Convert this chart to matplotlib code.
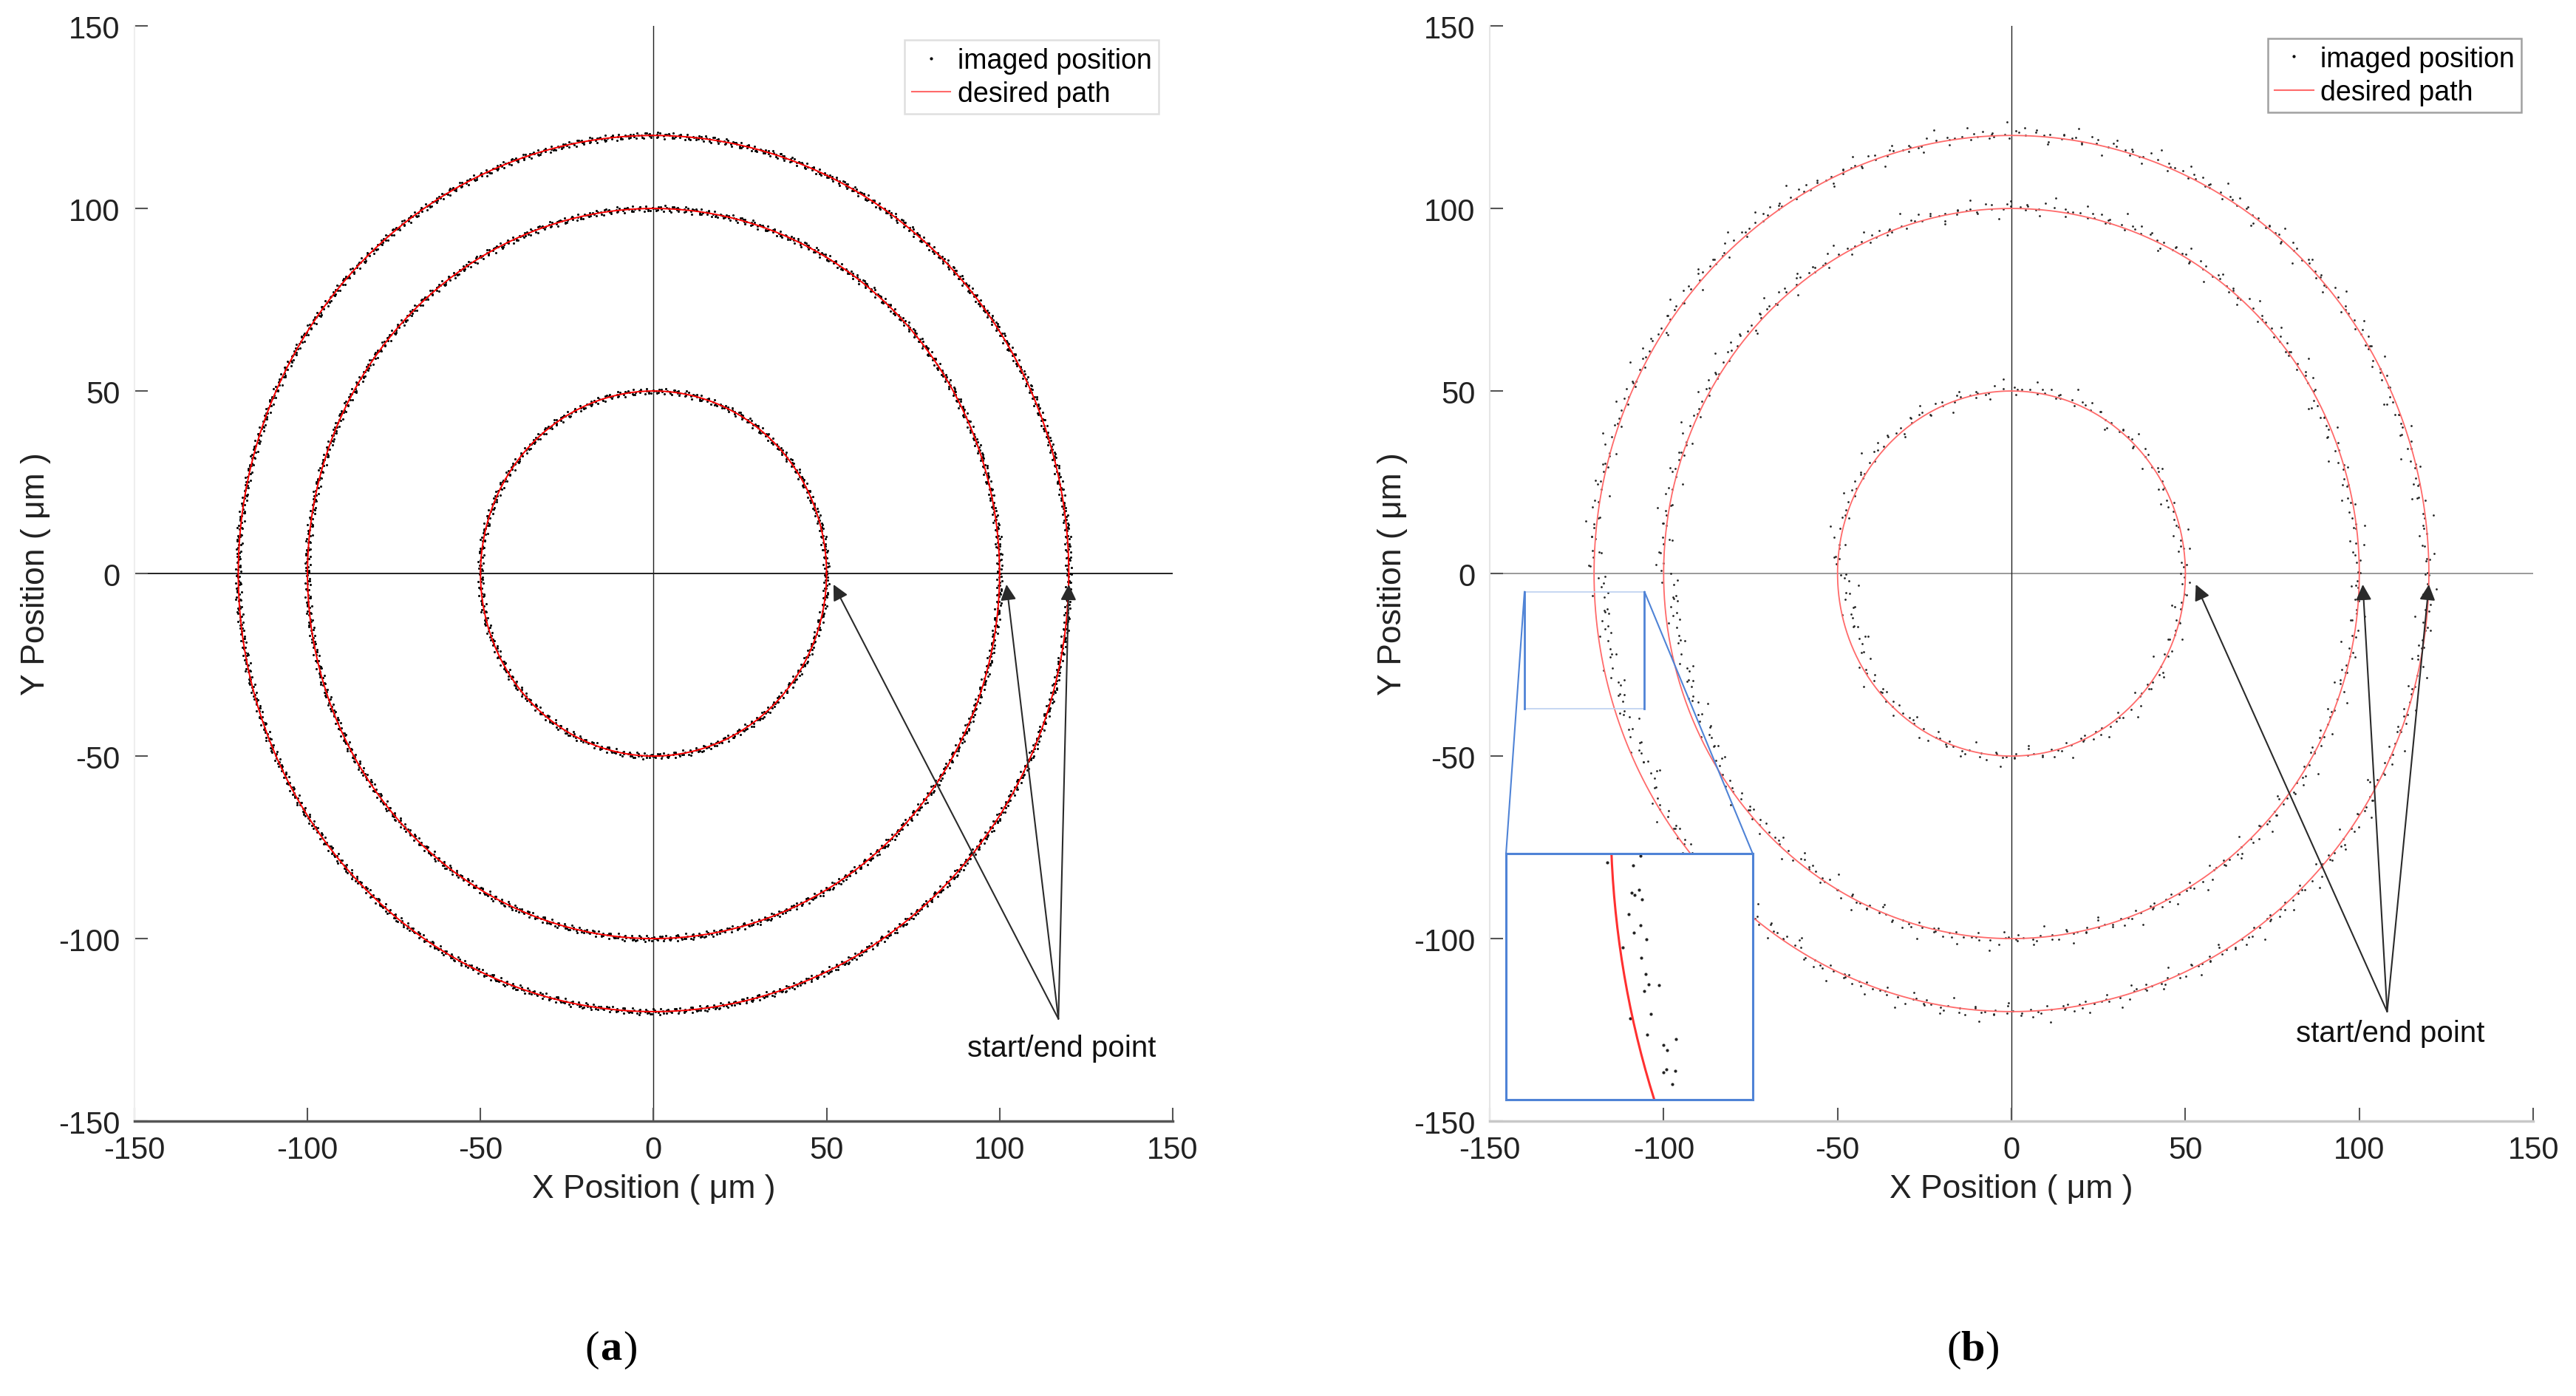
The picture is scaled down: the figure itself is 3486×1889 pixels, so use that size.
import numpy as np
import matplotlib.pyplot as plt
from matplotlib.lines import Line2D

plt.rcParams['font.family'] = ['Liberation Sans', 'DejaVu Sans']
plt.rcParams['axes.unicode_minus'] = False

# desired circular paths (um)
path_radii = [50, 100, 120]
# number of imaged positions recorded along each path
n_points_a = [750, 1500, 1800]
n_points_b = [260, 520, 620]

# radial deviation of the imaged positions from the path (um)
dev_a = [0.3, -0.5, 0.1, 0.7, -0.2, -0.8, 0.4, 0.0, -0.3, 0.6, -0.6, 0.2, 0.8, -0.1,
         -0.4, 0.5, -0.7, 0.3, 0.1, -0.9, 0.6, -0.2, 0.4, -0.5, 0.9, -0.3, 0.0, 0.2,
         -0.6, 0.7, -0.1, 0.5, -0.8, 0.3, -0.4, 0.1, 0.6, -0.7, 0.2, -0.2, 0.8, -0.5,
         0.4, -0.3, 0.0, 0.5, -0.6]
dev_b = [0.4, -0.6, 1.1, 0.1, -0.3, 2.4, -0.9, 0.2, 0.7, -1.5, 0.0, 0.5, -0.2, 3.1,
         -0.7, 0.3, 1.4, -0.4, -2.2, 0.6, 0.1, -1.0, 0.9, -0.1, 1.8, -0.5, 0.3, -3.0,
         0.8, -0.3, 0.2, 1.2, -0.8, 0.0, 2.7, -1.2, 0.4, -0.6, 0.6, -1.8, 0.1, 1.0,
         -0.2, 0.5, -2.6, 1.6, -0.4, 0.2, -1.1, 0.7, 3.4, -0.9, 0.0]
# mean radial offset per 30 degree sector in (b), starting at +x, counter-clockwise
sector_bias_b = [-0.8, 0.3, 0.6, 0.3, 1.0, 0.6, -2.8, -0.8, 0.3, 0.0, 0.4, -0.4]

ticks = [-150, -100, -50, 0, 50, 100, 150]

# start/end point annotation (data coords)
tips_a = [(52, -3), (102, -3), (120, -3)]
tail_a = (117, -122)
note_a = (118, -130)
tips_b = [(53, -3), (101, -3), (120, -3)]
tail_b = (108, -120)
note_b = (109, -126)

# magnified region of (b): source box and where the inset sits
zoom_src = (-140, -105.5, -37, -5)
inset_view = (-134, -101, -37, -5)
inset_box = (-145.3, -144.2, 70.9, 67.5)


def imaged_points(r, n, dev, bias=None):
    th = np.linspace(0, 2 * np.pi, n, endpoint=False)
    d = np.resize(np.asarray(dev, float), n)
    # tangential scatter taken from the same deviation table
    th = th + np.roll(d, 17) * 1.5 / r
    if bias is not None:
        d = d + np.asarray(bias)[(th // (np.pi / 6)).astype(int) % 12]
    return (r + d) * np.cos(th), (r + d) * np.sin(th)


def circle(r):
    th = np.linspace(0, 2 * np.pi, 721)
    return r * np.cos(th), r * np.sin(th)


def style_axes(ax, left_col, bottom_col, zero_h, zero_v):
    ax.set_xlim(-150, 150)
    ax.set_ylim(-150, 150)
    ax.set_xticks(ticks)
    ax.set_yticks(ticks)
    ax.spines['top'].set_visible(False)
    ax.spines['right'].set_visible(False)
    ax.spines['left'].set_color(left_col)
    ax.spines['left'].set_linewidth(1.5)
    ax.spines['bottom'].set_color(bottom_col)
    ax.spines['bottom'].set_linewidth(2.5)
    ax.tick_params(direction='in', length=13, width=1.5, color='#555555',
                   labelsize=30, labelcolor='#222222', pad=14)
    ax.plot([-150, 150], [0, 0], color=zero_h, lw=1.4, zorder=1)
    ax.plot([0, 0], [-150, 150], color=zero_v, lw=1.0, zorder=1)
    ax.set_xlabel('X Position ( μm )', fontsize=32, color='#222222')
    ax.set_ylabel('Y Position ( μm )', fontsize=32, color='#222222')
    ax.xaxis.label.set_va('center')
    ax.yaxis.label.set_va('center')


def start_end(ax, tips, tail, note):
    for t in tips:
        ax.annotate('', xy=t, xytext=tail,
                    arrowprops=dict(arrowstyle='-|>', color='#2a2a2a', lw=1.5,
                                    mutation_scale=32, shrinkA=0, shrinkB=0))
    ax.text(note[0], note[1], 'start/end point', ha='center', va='center',
            fontsize=29, color='#111111')


fig = plt.figure(figsize=(34.86, 18.9), dpi=100)
ax_a = fig.add_axes([0.0522, 0.1968, 0.4030, 0.7841])
ax_b = fig.add_axes([0.5783, 0.1968, 0.4051, 0.7841])

# ---- (a)
style_axes(ax_a, '#eeeeee', '#555555', '#222222', '#222222')
for r, n in zip(path_radii, n_points_a):
    x, y = imaged_points(r, n, dev_a)
    ax_a.plot(x, y, ls='none', marker='o', ms=2.2, mew=0, color='black', zorder=2)
for r in path_radii:
    cx, cy = circle(r)
    ax_a.plot(cx, cy, color='#ff0000', lw=1.4, zorder=3)
start_end(ax_a, tips_a, tail_a, note_a)
ax_a.xaxis.set_label_coords(0.5, -0.062)
ax_a.yaxis.set_label_coords(-0.0947, 0.5)

# ---- (b)
style_axes(ax_b, '#e6e6e6', '#c8c8c8', '#9a9a9a', '#222222')
pts_b = []
for r, n in zip(path_radii, n_points_b):
    x, y = imaged_points(r, n, dev_b, sector_bias_b)
    pts_b.append((x, y))
    ax_b.plot(x, y, ls='none', marker='o', ms=2.0, mew=0, color='#222222', zorder=2)
for r in path_radii:
    cx, cy = circle(r)
    ax_b.plot(cx, cy, color='#ff6a6a', lw=1.3, zorder=3)
start_end(ax_b, tips_b, tail_b, note_b)
ax_b.xaxis.set_label_coords(0.5, -0.062)
ax_b.yaxis.set_label_coords(-0.0928, 0.5)

# magnified view
x0, x1, y0, y1 = zoom_src
bx, by, bw, bh = inset_box
blue = '#4f83d6'
ax_b.plot([x0, x1], [y1, y1], color='#bcd0f0', lw=1.2, zorder=4)
ax_b.plot([x0, x1], [y0, y0], color='#bcd0f0', lw=1.2, zorder=4)
ax_b.plot([x0, x0], [y0, y1], color=blue, lw=2.0, zorder=4)
ax_b.plot([x1, x1], [y0, y1], color=blue, lw=2.0, zorder=4)
ax_b.plot([x0, bx], [y1, by + bh], color=blue, lw=1.5, zorder=4)
ax_b.plot([x1, bx + bw], [y1, by + bh], color=blue, lw=1.5, zorder=4)

ax_in = ax_b.inset_axes([bx, by, bw, bh], transform=ax_b.transData, zorder=5)
for x, y in pts_b:
    ax_in.plot(x, y, ls='none', marker='o', ms=3.0, mew=0, color='#222222')
for r in path_radii:
    cx, cy = circle(r)
    ax_in.plot(cx, cy, color='#ff3030', lw=2.2)
ax_in.set_xlim(inset_view[0], inset_view[1])
ax_in.set_ylim(inset_view[2], inset_view[3])
ax_in.set_xticks([])
ax_in.set_yticks([])
for s in ax_in.spines.values():
    s.set_color(blue)
    s.set_linewidth(2.2)

# legends
handles = [Line2D([], [], ls='none', marker='o', ms=3, mew=0, color='black'),
           Line2D([], [], color='#ff6a6a', lw=1.5)]
labels = ['imaged position', 'desired path']
for ax, anchor, edge in [(ax_a, (0.9865, 0.987), '#d8d8d8'),
                         (ax_b, (0.9887, 0.9885), '#8a8a8a')]:
    leg = ax.legend(handles, labels, loc='upper right', bbox_to_anchor=anchor,
                    borderaxespad=0, fontsize=27, frameon=True, fancybox=False,
                    handlelength=1.4, handletextpad=0.25, labelspacing=0.25,
                    borderpad=0.25)
    leg.get_frame().set_edgecolor(edge)
    leg.get_frame().set_linewidth(1.8)

# panel letters
for cx, letter in [(827, 'a'), (2670, 'b')]:
    fx = cx / 3486
    fy = 1 - 1827 / 1890
    fig.text(fx - 0.0045, fy, '(', ha='right', va='center', fontsize=42,
             family='Liberation Serif')
    fig.text(fx, fy, letter, ha='center', va='center', fontsize=42,
             family='Liberation Serif', fontweight='bold')
    fig.text(fx + 0.0045, fy, ')', ha='left', va='center', fontsize=42,
             family='Liberation Serif')

fig.savefig('out.png', dpi=100)
